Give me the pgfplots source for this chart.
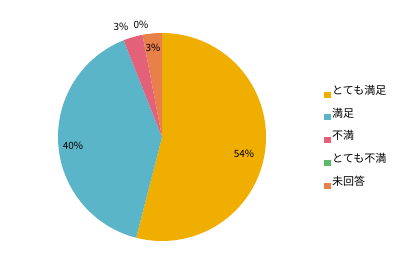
\documentclass[border=0pt]{standalone}
\usepackage{pgfplots}
\pgfplotsset{compat=1.18}
\usepackage{fontspec}
\setmainfont{Noto Sans CJK JP}
\definecolor{c1}{RGB}{240,174,0}
\definecolor{c2}{RGB}{91,181,201}
\definecolor{c3}{RGB}{227,98,122}
\definecolor{c4}{RGB}{92,187,106}
\definecolor{c5}{RGB}{232,128,74}
% values: 54, 40, 3, 0, 3 (percent) -> angles start at 90 deg, clockwise, 3.6 deg per percent
\begin{document}
\begin{tikzpicture}
\begin{axis}[
  scale only axis, width=410pt, height=273pt,
  xmin=0, xmax=410, ymin=0, ymax=273,
  hide axis, clip=false,
  legend style={draw=none, fill=none, at={(axis cs:324,190)}, anchor=north west,
    font=\fontsize{11}{13}\selectfont, row sep=8pt, inner sep=0pt,
    nodes={inner xsep=1pt}},
  legend cell align=left,
  legend image code/.code={\fill (0pt,-7pt) rectangle (7pt,-1pt);},
  every node/.style={font=\fontsize{10.5}{12}\selectfont, text=black!85},
]
\path (axis cs:0,0) -- (axis cs:410,273);
% とても満足 54%
\addplot[fill=c1, draw=none, samples=100, domain=90:-104.4, variable=\t]
  ({162+104*cos(t)},{136+104*sin(t)}) -- (axis cs:162,136) -- cycle;
\addlegendentry{とても満足}
% 満足 40%
\addplot[fill=c2, draw=none, samples=100, domain=-104.4:-248.4, variable=\t]
  ({162+104*cos(t)},{136+104*sin(t)}) -- (axis cs:162,136) -- cycle;
\addlegendentry{満足}
% 不満 3%
\addplot[fill=c3, draw=none, samples=20, domain=-248.4:-259.2, variable=\t]
  ({162+104*cos(t)},{136+104*sin(t)}) -- (axis cs:162,136) -- cycle;
\addlegendentry{不満}
% とても不満 0%
\addlegendimage{fill=c4, draw=none}
\addlegendentry{とても不満}
% 未回答 3%
\addplot[fill=c5, draw=none, samples=20, domain=-259.2:-270, variable=\t]
  ({162+104*cos(t)},{136+104*sin(t)}) -- (axis cs:162,136) -- cycle;
\addlegendentry{未回答}
\node at (axis cs:244,119) {54\%};
\node at (axis cs:73,127) {40\%};
\node at (axis cs:121,246) {3\%};
\node at (axis cs:141,248) {0\%};
\node at (axis cs:153,225) {3\%};
\end{axis}
\end{tikzpicture}
\end{document}
